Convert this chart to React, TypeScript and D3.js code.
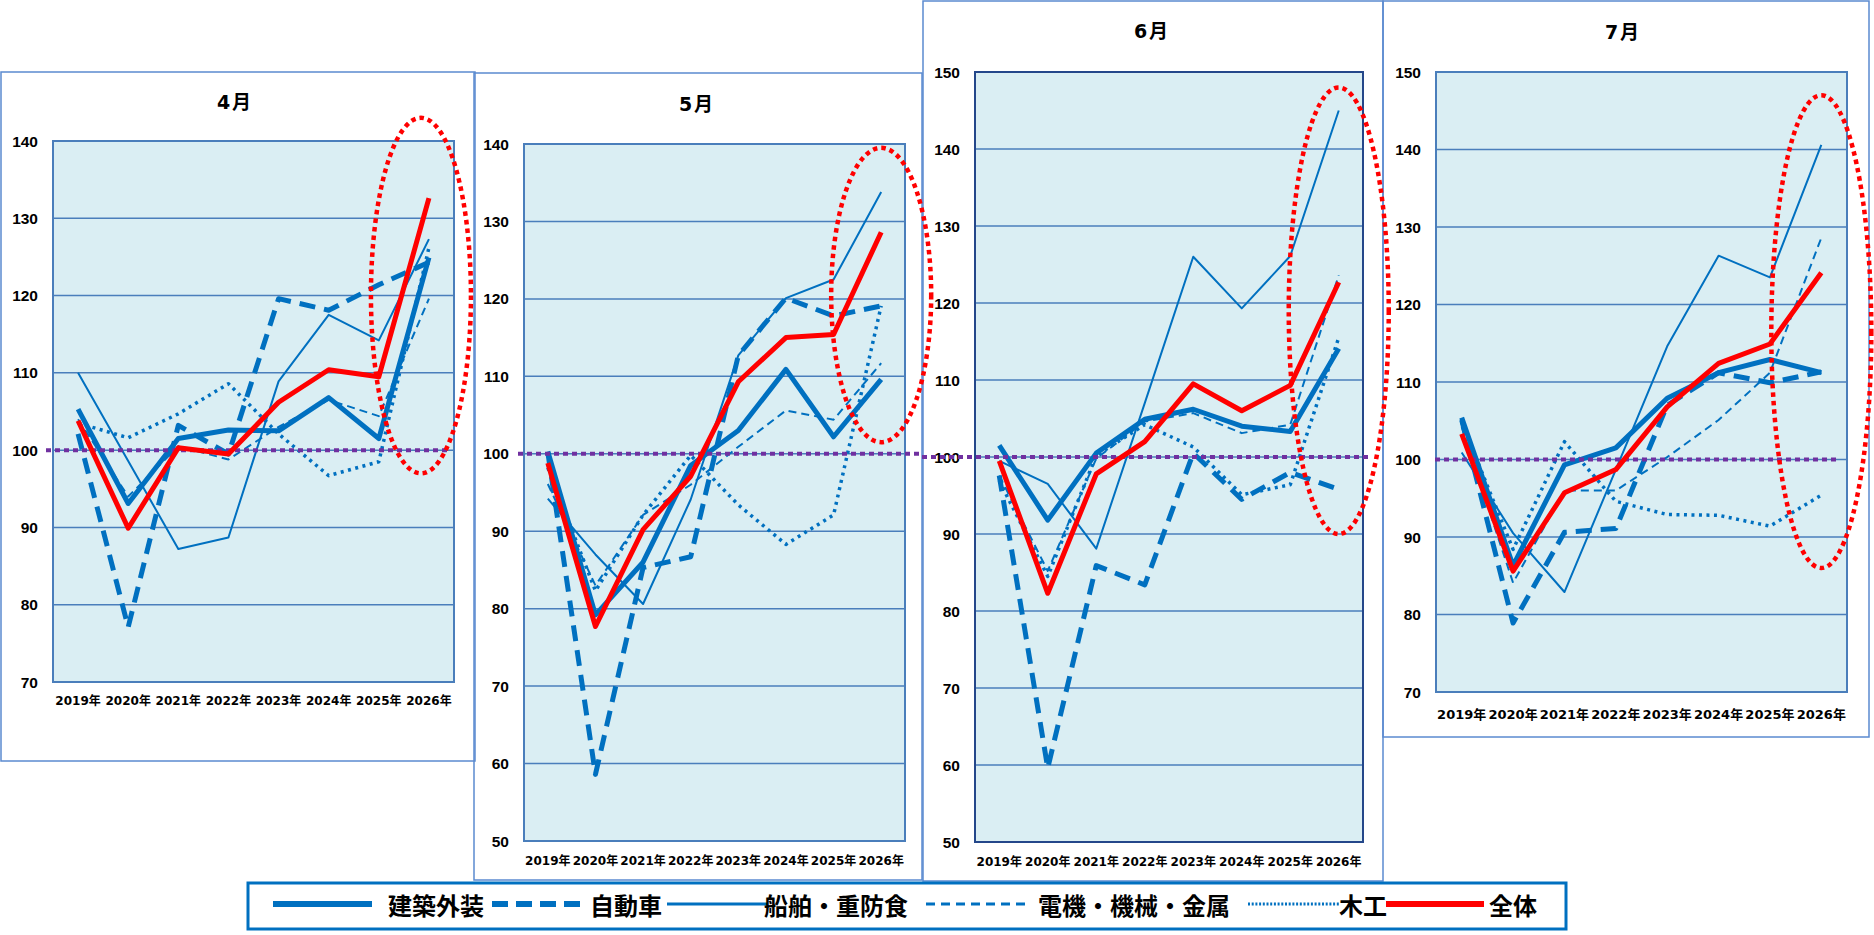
import React from 'react';
import { scaleLinear, scalePoint, line, range } from 'd3';

const years = ['2019年', '2020年', '2021年', '2022年', '2023年', '2024年', '2025年', '2026年'];
const seriesNames = ['建築外装', '自動車', '船舶・重防食', '電機・機械・金属', '木工', '全体'];
const months = ['4月', '5月', '6月', '7月'];

// rows follow seriesNames
const april = [
  [105.3, 93.1, 101.5, 102.6, 102.5, 106.8, 101.5, 124.9],
  [102.1, 77.1, 103.2, 99.5, 119.6, 118.1, 121.4, 124.3],
  [110.0, 98.6, 87.2, 88.7, 108.9, 117.5, 114.2, 127.3],
  [104.0, 94.0, 100.5, 98.8, 103.0, 106.5, 104.4, 119.6],
  [103.5, 101.6, 104.7, 108.6, 102.1, 96.7, 98.5, 126.2],
  [103.8, 89.9, 100.3, 99.5, 106.2, 110.4, 109.5, 132.6],
];
const may = [
  [100.3, 79.2, 86.0, 98.5, 103.0, 110.9, 102.2, 109.6],
  [100.2, 58.6, 85.3, 86.7, 112.7, 120.1, 117.8, 119.1],
  [94.2, 87.0, 80.6, 94.1, 112.7, 120.1, 122.5, 133.8],
  [96.1, 83.0, 92.1, 96.0, 100.9, 105.6, 104.4, 111.7],
  [98.2, 82.3, 92.1, 99.8, 93.4, 88.3, 92.1, 119.1],
  [98.8, 77.7, 90.2, 97.1, 109.3, 115.0, 115.4, 128.6],
];
const june = [
  [101.5, 91.8, 100.5, 104.9, 106.2, 104.0, 103.3, 114.1],
  [97.6, 59.6, 85.9, 83.4, 100.5, 94.5, 98.0, 95.8],
  [99.5, 96.5, 88.1, 107.0, 126.0, 119.3, 126.1, 145.0],
  [97.6, 85.2, 99.8, 104.6, 105.7, 103.1, 104.2, 123.6],
  [96.9, 84.5, 100.2, 104.2, 101.3, 95.1, 96.4, 115.5],
  [99.5, 82.3, 97.8, 102.0, 109.5, 106.0, 109.3, 122.7],
];
const july = [
  [105.4, 86.3, 99.3, 101.5, 107.9, 111.2, 112.9, 111.2],
  [105.1, 78.9, 90.6, 91.1, 107.0, 111.2, 109.9, 111.3],
  [100.9, 90.5, 82.9, 98.7, 114.6, 126.3, 123.5, 140.6],
  [104.2, 84.1, 96.0, 96.0, 100.3, 105.1, 111.2, 128.6],
  [104.8, 88.4, 102.3, 94.6, 92.9, 92.8, 91.4, 95.4],
  [103.3, 85.6, 95.7, 98.7, 106.8, 112.4, 114.9, 124.1],
];
const yDomains = [[70, 140], [50, 140], [50, 150], [70, 150]];
const baseline = 100;
// red dotted highlight around the last year, in value units
const ellipseTop = [143, 139.5, 148, 147];
const ellipseBottom = [97, 101.5, 90, 86];

const BLUE = '#0070C0';
const RED = '#FF0000';
const PURPLE = '#7030A0';
const GRID = '#4A7EBB';
const NUM_FONT = "'DejaVu Sans', 'Noto Sans CJK JP', sans-serif";
const TICK_FONT = "'Liberation Sans', Arial, sans-serif";
const JP_FONT = "'Noto Sans CJK JP', sans-serif";

const styles = [
  { color: BLUE, width: 5, dash: undefined },
  { color: BLUE, width: 5, dash: '16 9' },
  { color: BLUE, width: 2, dash: undefined },
  { color: BLUE, width: 2, dash: '8 5' },
  { color: BLUE, width: 3.5, dash: '3 4.5' },
  { color: RED, width: 5, dash: undefined },
];

const panels = [
  { data: april, box: [1, 72, 475, 761], plot: [53, 454, 141, 682], title: [235, 102], xLabelY: 701, xFont: 12, ref: [-7, -4], shift: -8, frame: GRID },
  { data: may, box: [474, 73, 922, 880], plot: [524, 905, 144, 841], title: [697, 104], xLabelY: 861, xFont: 12, ref: [-6, 18], shift: 0, frame: GRID },
  { data: june, box: [923, 1, 1383, 881], plot: [975, 1363, 72, 842], title: [1152, 31], xLabelY: 862, xFont: 12, ref: [-53, 5], shift: 0, frame: '#24478A' },
  { data: july, box: [1383, 1, 1869, 737], plot: [1436, 1847, 72, 692], title: [1623, 32], xLabelY: 714, xFont: 13, ref: [-1, -7], shift: 0, frame: GRID },
];

function Panel({ i }: { i: number }) {
  const p = panels[i];
  const [l, r, t, b] = p.plot;
  const x = scalePoint<string>().domain(years).range([l, r]).padding(0.5);
  const y = scaleLinear().domain(yDomains[i]).range([b, t]);
  const ticks = range(yDomains[i][0], yDomains[i][1] + 1, 10);
  const gen = line<number>().x((_, k) => x(years[k]) as number).y(d => y(d));
  const order = [0, 1, 2, 3, 4];
  return (
    <g>
      <rect x={p.box[0]} y={p.box[1]} width={p.box[2] - p.box[0]} height={p.box[3] - p.box[1]} fill="none" stroke="#5B8AD0" strokeWidth={1.5} />
      <text x={p.title[0]} y={p.title[1]} textAnchor="middle" dominantBaseline="central" fontFamily={NUM_FONT} fontWeight="bold" fontSize={19} letterSpacing={2}>{months[i]}</text>
      <rect x={l} y={t} width={r - l} height={b - t} fill="#DAEEF3" />
      {ticks.map(v => (
        <g key={v}>
          <line x1={l} x2={r} y1={y(v)} y2={y(v)} stroke={GRID} strokeWidth={1.5} />
          <text x={l - 15} y={y(v)} textAnchor="end" dominantBaseline="central" fontFamily={TICK_FONT} fontWeight="bold" fontSize={15.5}>{v}</text>
        </g>
      ))}
      <rect x={l} y={t} width={r - l} height={b - t} fill="none" stroke={p.frame} strokeWidth={2} />
      {years.map(yr => (
        <text key={yr} x={x(yr)} y={p.xLabelY} textAnchor="middle" dominantBaseline="central" fontFamily={NUM_FONT} fontWeight="bold" fontSize={p.xFont}>{yr}</text>
      ))}
      {order.map(s => (
        <path key={s} d={gen(p.data[s]) || ''} fill="none" stroke={styles[s].color} strokeWidth={styles[s].width} strokeDasharray={styles[s].dash} strokeLinejoin="round" />
      ))}
      <line x1={l + p.ref[0]} x2={r + p.ref[1]} y1={y(baseline)} y2={y(baseline)} stroke={PURPLE} strokeWidth={4} strokeDasharray="5 4" />
      <path d={gen(p.data[5]) || ''} fill="none" stroke={styles[5].color} strokeWidth={styles[5].width} strokeLinejoin="round" />
    </g>
  );
}

function Highlight({ i }: { i: number }) {
  const p = panels[i];
  const [l, r, t, b] = p.plot;
  const x = scalePoint<string>().domain(years).range([l, r]).padding(0.5);
  const y = scaleLinear().domain(yDomains[i]).range([b, t]);
  const cx = (x(years[years.length - 1]) as number) + p.shift;
  const top = y(ellipseTop[i]);
  const bottom = y(ellipseBottom[i]);
  return (
    <ellipse cx={cx} cy={(top + bottom) / 2} rx={50} ry={(bottom - top) / 2} fill="none" stroke={RED} strokeWidth={4.5} strokeDasharray="4.5 4" />
  );
}

const legendX = [273, 492, 667, 926, 1248, 1386];
const legendLineW = [99, 93, 100, 100, 92, 98];
const legendTextX = [388, 590, 764, 1038, 1339, 1489];
const legendWidth = [6, 6, 3, 3, 3, 6];
const legendDash = [undefined, '16 8', undefined, '9 6', '2 1.7', undefined];

function Legend() {
  const cy = 904;
  return (
    <g>
      <rect x={248} y={883} width={1318} height={46} fill="#fff" stroke={BLUE} strokeWidth={3} />
      {seriesNames.map((name, s) => (
        <g key={name}>
          <line x1={legendX[s]} x2={legendX[s] + legendLineW[s]} y1={cy} y2={cy} stroke={styles[s].color}
            strokeWidth={legendWidth[s]} strokeDasharray={legendDash[s]} />
          <text x={legendTextX[s]} y={cy} dominantBaseline="central" fontFamily={JP_FONT} fontWeight={700} fontSize={24}>{name}</text>
        </g>
      ))}
    </g>
  );
}

export default function App() {
  return (
    <svg width={1874} height={935} style={{ position: 'absolute', left: 0, top: 0, background: '#fff' }}>
      {panels.map((_, i) => <Panel key={i} i={i} />)}
      {panels.map((_, i) => <Highlight key={i} i={i} />)}
      <Legend />
    </svg>
  );
}
